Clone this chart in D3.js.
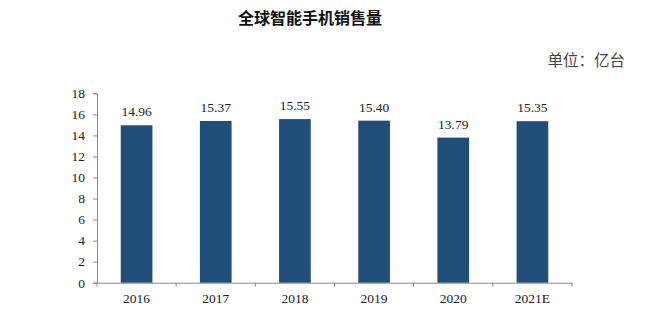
<!DOCTYPE html>
<html><head><meta charset="utf-8">
<script src="https://cdn.jsdelivr.net/npm/d3@7"></script>
<style>body{margin:0;background:#fff}svg{display:block}</style>
</head><body>
<svg id="c" width="660" height="323"></svg>
<script>
const categories = ["2016","2017","2018","2019","2020","2021E"];
const values = [14.96, 15.37, 15.55, 15.40, 13.79, 15.35];
const yTicks = [0,2,4,6,8,10,12,14,16,18];
const title = "全球智能手机销售量";
const unit = "单位：亿台";

(function(){
const svg = d3.select("#c");
const mLeft = 97, mRight = 572, mTop = 93.3, mBottom = 282.7;
const x = d3.scaleBand().domain(categories).range([mLeft, mRight]).paddingInner(0.6).paddingOuter(0.3);
const y = d3.scaleLinear().domain([0, 18]).range([mBottom, mTop]);
const serif = "'Liberation Serif','Times New Roman',serif";
const axisCol = "#8c8c8c";

svg.append("text").attr("x", 310).attr("y", 24).attr("text-anchor", "middle")
  .attr("font-family", "'Noto Sans CJK SC',sans-serif").attr("font-weight", "bold")
  .attr("font-size", 16).attr("fill", "#111").text(title);
svg.append("text").attr("x", 625).attr("y", 66).attr("text-anchor", "end")
  .attr("font-family", "'Noto Sans CJK SC',sans-serif")
  .attr("font-size", 15.5).attr("fill", "#444").text(unit);

const ya = svg.append("g").attr("transform", `translate(${mLeft},0)`)
  .call(d3.axisLeft(y).tickValues(yTicks).tickSize(4).tickPadding(8).tickFormat(d3.format("d")));
ya.selectAll("path,line").attr("stroke", axisCol);
ya.selectAll("text").attr("font-family", serif).attr("font-size", 13.5).attr("fill", "#222");

const xa = svg.append("g").attr("transform", `translate(0,${mBottom})`)
  .call(d3.axisBottom(x).tickSize(0).tickSizeOuter(0).tickPadding(11));
xa.select("path").attr("stroke", axisCol);
xa.selectAll("text").attr("font-family", serif).attr("font-size", 13.5).attr("fill", "#222");
const bounds = categories.map(c => x(c) - x.step()*x.paddingInner()/2).concat([mRight]);
xa.selectAll(".bt").data(bounds).enter().append("line")
  .attr("x1", d => d).attr("x2", d => d).attr("y1", 0).attr("y2", 4).attr("stroke", axisCol);

svg.selectAll(".bar").data(values).enter().append("rect")
  .attr("x", (d,i) => x(categories[i])).attr("width", x.bandwidth())
  .attr("y", d => y(d)).attr("height", d => y(0) - y(d))
  .attr("fill", "#1f4e79");

svg.selectAll(".lbl").data(values).enter().append("text")
  .attr("x", (d,i) => x(categories[i]) + x.bandwidth()/2)
  .attr("y", d => y(d) - 9).attr("text-anchor", "middle")
  .attr("font-family", serif).attr("font-size", 13.5).attr("fill", "#222")
  .text(d => d.toFixed(2));
})();
</script>
</body></html>
